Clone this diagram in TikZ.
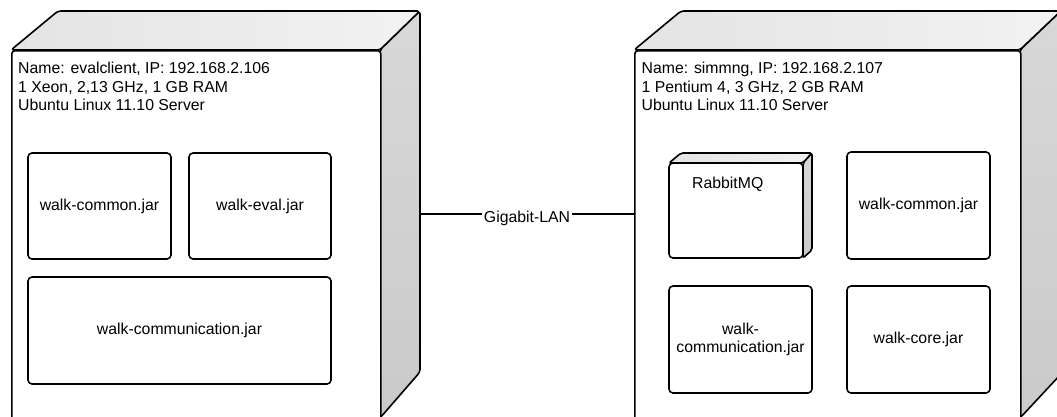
\documentclass[tikz,border=0pt]{standalone}
\usepackage{fontspec}
\setmainfont{Liberation Sans}
\usetikzlibrary{calc}

\definecolor{topL}{HTML}{E4E4E4}
\definecolor{topR}{HTML}{F2F2F2}
\definecolor{sideT}{HTML}{D8D8D8}
\definecolor{sideB}{HTML}{CACACA}

\begin{document}
\begin{tikzpicture}[x=1pt,y=-1pt,
  every node/.style={font=\fontsize{15.8}{18.7}\selectfont},
  edge/.style={line width=1.6pt, draw=black, line join=round},
  face/.style={edge, rounded corners=3pt},
  topshade/.style={face, left color=topL, right color=topR},
  sideshade/.style={face, top color=sideT, bottom color=sideB},
  front/.style={face, fill=white, rectangle, anchor=north west, inner sep=0pt},
  jar/.style={edge, rectangle, rounded corners=4pt, fill=white, align=center, inner sep=0pt},
  info/.style={anchor=base west, inner sep=0pt},
  lan/.style={fill=white, inner sep=2pt, anchor=base, yshift=-8pt}
]
\useasboundingbox (0,0) rectangle (1057,417);
\clip (0,0) rectangle (1057,417);

% ---- server evalclient ----
\draw[topshade]  (11,50) -- (58,11) -- (420,11) -- (380,50) -- cycle;
\draw[sideshade] (380,50) -- (420,11) -- (420,372) -- (380,418) -- cycle;
\node[front, minimum width=369pt, minimum height=370pt] (evalclient) at (11,50) {};

\node[info] (evalname) at (18,73.5) {Name: evalclient, IP: 192.168.2.106};
\node[info] (evalhw)   at (18,92.2) {1 Xeon, 2,13 GHz, 1 GB RAM};
\node[info] (evalos)   at (18,111)  {Ubuntu Linux 11.10 Server};

\node[jar, minimum width=143pt, minimum height=106pt] (evalcommon) at (99.5,206) {walk-common.jar};
\node[jar, minimum width=142pt, minimum height=106pt] (evaleval)   at (260,206)  {walk-eval.jar};
\node[jar, minimum width=303pt, minimum height=107pt] (evalcomm)   at (179.5,330.5) {walk-communication.jar};

% ---- server simmng ----
\draw[topshade]  (634,50) -- (681,11) -- (1061,11) -- (1020,50) -- cycle;
\draw[sideshade] (1020,50) -- (1061,11) -- (1061,374) -- (1020,418) -- cycle;
\node[front, minimum width=386pt, minimum height=370pt] (simmng) at (634,50) {};

\node[info] (simmname) at (641.5,73.5) {Name: simmng, IP: 192.168.2.107};
\node[info] (simmhw)   at (641.5,92.2) {1 Pentium 4, 3 GHz, 2 GB RAM};
\node[info] (simmos)   at (641.5,111)  {Ubuntu Linux 11.10 Server};

% RabbitMQ as a small 3D node
\draw[topshade, rounded corners=2pt]  (669,163) -- (681,153) -- (812,153) -- (803,163) -- cycle;
\draw[sideshade, rounded corners=2pt] (803,163) -- (812,153) -- (812,250) -- (803,258) -- cycle;
\node[jar, minimum width=134pt, minimum height=95pt] (rabbitmq) at (736,210.5) {};
\node[info] (rabbitlbl) at (692,188) {RabbitMQ};

\node[jar, minimum width=143pt, minimum height=107pt] (simmcommon) at (918.5,205.5) {walk-common.jar};
\node[jar, minimum width=143pt, minimum height=107pt] (simmcomm)   at (740.5,339.5) {walk-\\communication.jar};
\node[jar, minimum width=143pt, minimum height=107pt] (simmcore)   at (918.5,339.5) {walk-core.jar};

% ---- network link ----
\coordinate (evalport) at (420,214);
\draw[edge] (evalport) -- node[lan] (lanlbl) {Gigabit-LAN} (evalport -| simmng.west);
\end{tikzpicture}
\end{document}
